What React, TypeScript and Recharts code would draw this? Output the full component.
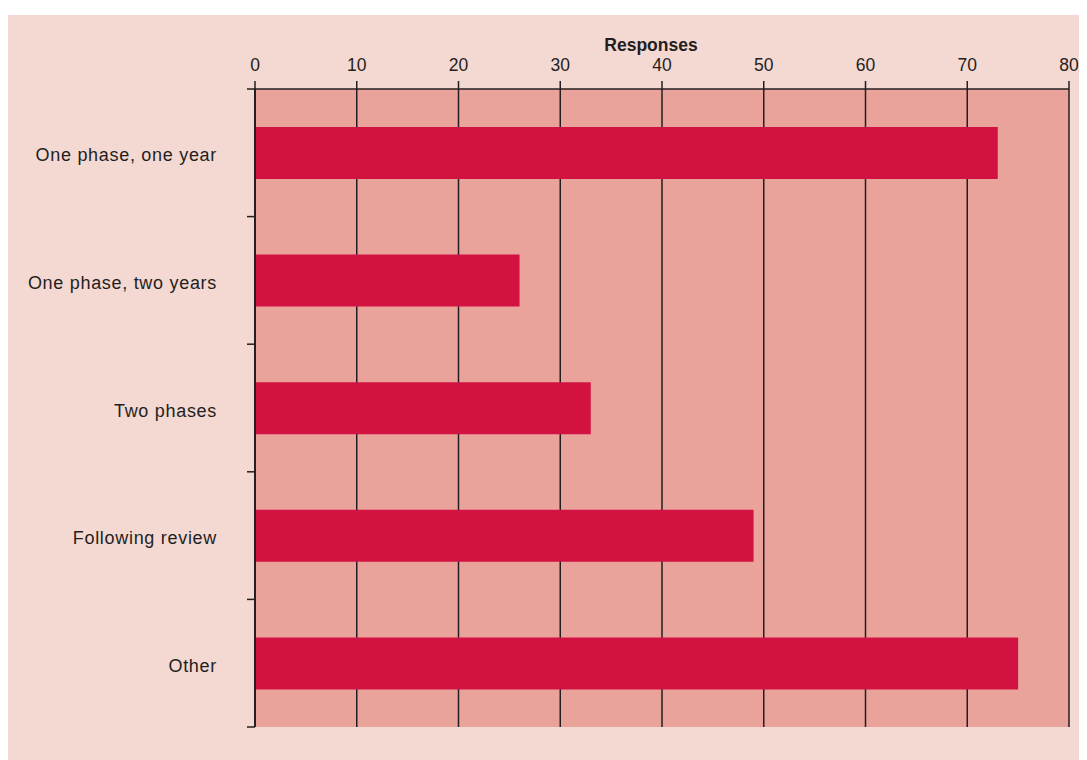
import { BarChart, Bar, XAxis, YAxis, CartesianGrid } from "recharts";

const CATEGORIES = [
  "One phase, one year",
  "One phase, two years",
  "Two phases",
  "Following review",
  "Other",
];
const RESPONSES = [73, 26, 33, 49, 75];
const X_TICKS = [0, 10, 20, 30, 40, 50, 60, 70, 80];

const data = CATEGORIES.map((name, i) => ({ name, value: RESPONSES[i] }));

const W = 1079;
const H = 745;
const TOP = 74;
const BOTTOM = 33;
const LEFT = 247;
const RIGHT = 18;
const BAND = (H - TOP - BOTTOM) / CATEGORIES.length;

const INK = "#231f20";
const FONT = "'Liberation Sans', Arial, Helvetica, sans-serif";

// category label plus a small tick at the band boundaries
function CategoryTick(props: any) {
  const { x, y, payload, index } = props;
  return (
    <g>
      {index === 0 && (
        <line x1={LEFT - 8} x2={LEFT} y1={y - BAND / 2} y2={y - BAND / 2} stroke={INK} strokeWidth={1.5} />
      )}
      <line x1={LEFT - 8} x2={LEFT} y1={y + BAND / 2} y2={y + BAND / 2} stroke={INK} strokeWidth={1.5} />
      <text
        x={x}
        y={y}
        dy={8.5}
        textAnchor="end"
        fill={INK}
        fontSize={18}
        letterSpacing={0.7}
        fontFamily={FONT}
      >
        {payload.value}
      </text>
    </g>
  );
}

export default function App() {
  return (
    <div style={{ marginTop: 7, width: W, height: H, background: "#f4d8d2" }}>
      <BarChart
        width={W}
        height={H}
        data={data}
        layout="vertical"
        margin={{ top: 0, right: RIGHT, bottom: BOTTOM, left: 0 }}
        barSize={52}
      >
        <CartesianGrid
          horizontal={false}
          fill="#eaa39b"
          fillOpacity={1}
          stroke={INK}
          strokeWidth={1.5}
        />
        <XAxis
          type="number"
          orientation="top"
          domain={[0, 80]}
          ticks={X_TICKS}
          height={TOP}
          tickSize={8}
          tickMargin={10}
          axisLine={{ stroke: INK, strokeWidth: 1.5 }}
          tickLine={{ stroke: INK, strokeWidth: 1.5 }}
          tick={{ fill: INK, fontSize: 17.5, fontFamily: FONT }}
          label={{
            value: "Responses",
            position: "insideTop",
            offset: 24,
            dx: -11,
            fill: INK,
            fontSize: 17.5,
            fontWeight: "bold",
            fontFamily: FONT,
          }}
        />
        <XAxis
          xAxisId="bottom"
          type="number"
          orientation="bottom"
          domain={[0, 80]}
          ticks={X_TICKS}
          height={0}
          tick={false}
          tickLine={false}
          axisLine={{ stroke: INK, strokeWidth: 1.5 }}
        />
        <YAxis
          type="category"
          dataKey="name"
          width={LEFT}
          tickSize={0}
          tickMargin={38}
          tickLine={false}
          axisLine={{ stroke: INK, strokeWidth: 2 }}
          tick={<CategoryTick />}
          interval={0}
        />
        <Bar dataKey="value" fill="#d21342" isAnimationActive={false} />
      </BarChart>
    </div>
  );
}
